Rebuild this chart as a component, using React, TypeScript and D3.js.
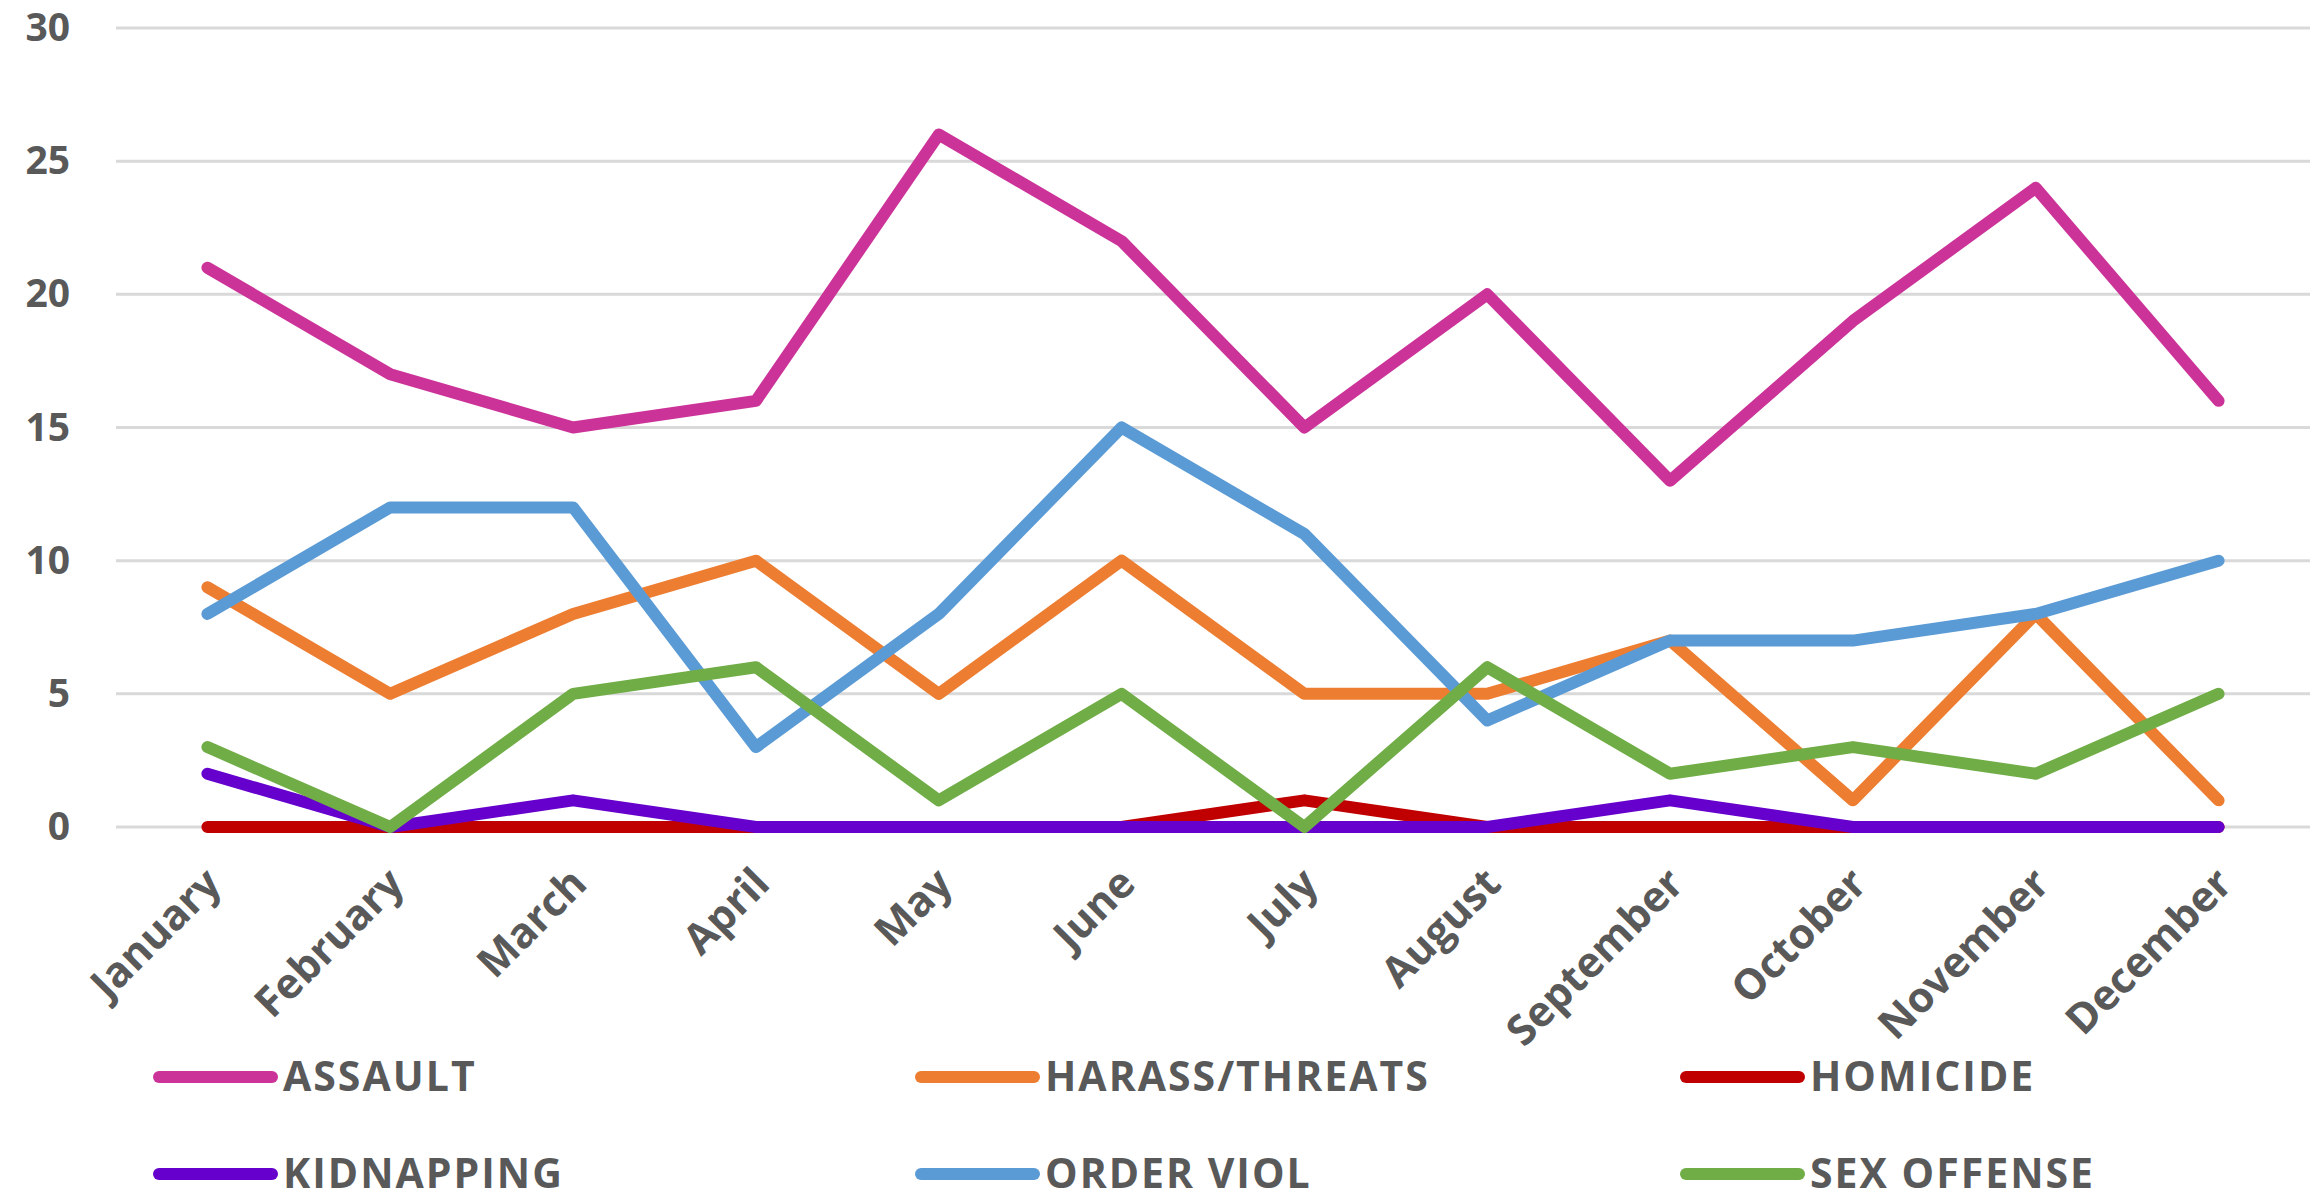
import React from "react";
import * as d3 from "d3";

const months = ["January","February","March","April","May","June","July","August","September","October","November","December"];
const assault = [21,17,15,16,26,22,15,20,13,19,24,16];
const harass = [9,5,8,10,5,10,5,5,7,1,8,1];
const homicide = [0,0,0,0,0,0,1,0,0,0,0,0];
const kidnapping = [2,0,1,0,0,0,0,0,1,0,0,0];
const orderViol = [8,12,12,3,8,15,11,4,7,7,8,10];
const sexOffense = [3,0,5,6,1,5,0,6,2,3,2,5];
const yTicks = [0,5,10,15,20,25,30];

const seriesNames = ["ASSAULT","HARASS/THREATS","HOMICIDE","KIDNAPPING","ORDER VIOL","SEX OFFENSE"];
const seriesValues = [assault, harass, homicide, kidnapping, orderViol, sexOffense];
const seriesColors = ["#CC3399","#ED7D31","#C00000","#6600CC","#5B9BD5","#70AD47"];

const W = 2323, H = 1201;
const FONT = "'Open Sans', 'Liberation Sans', sans-serif";
const TEXT = "#595959";

export default function App() {
  const x = d3.scaleBand<string>().domain(months).range([116, 2310]);
  const cx = (m: string) => (x(m) as number) + x.bandwidth() / 2;
  const y = d3.scaleLinear().domain([0, 30]).range([827, 28]);
  const line = d3.line<number>().x((_, i) => cx(months[i])).y((v) => y(v));

  const legendCols = [153, 915, 1680];
  const legendRows = [1077, 1174];

  return (
    <svg width={W} height={H} style={{ position: "absolute", left: 0, top: 0, background: "#fff" }}>
      <rect x={0} y={0} width={W} height={H} fill="#fff" />
      {yTicks.map((t) => (
        <g key={t}>
          <line x1={116} x2={2310} y1={y(t)} y2={y(t)} stroke="#D9D9D9" strokeWidth={3} />
          <text x={70} y={y(t) + 13} textAnchor="end" fontFamily={FONT} fontWeight={700} fontSize={39} fill={TEXT}>{t}</text>
        </g>
      ))}
      {months.map((m) => (
        <text key={m} transform={`translate(${cx(m) + 16},${886}) rotate(-45)`} textAnchor="end"
          fontFamily={FONT} fontWeight={700} fontSize={42} fill={TEXT}>{m}</text>
      ))}
      {seriesValues.map((vals, si) => (
        <path key={si} d={line(vals) as string} fill="none" stroke={seriesColors[si]} strokeWidth={12}
          strokeLinejoin="round" strokeLinecap="round" />
      ))}
      {seriesNames.map((name, si) => {
        const lx = legendCols[si % 3];
        const ly = legendRows[Math.floor(si / 3)];
        return (
          <g key={name}>
            <line x1={lx + 6} x2={lx + 119} y1={ly} y2={ly} stroke={seriesColors[si]} strokeWidth={12} strokeLinecap="round" />
            <text x={lx + 130} y={ly + 14} fontFamily={FONT} fontWeight={700} fontSize={41} letterSpacing={2} fill={TEXT}>{name}</text>
          </g>
        );
      })}
    </svg>
  );
}
